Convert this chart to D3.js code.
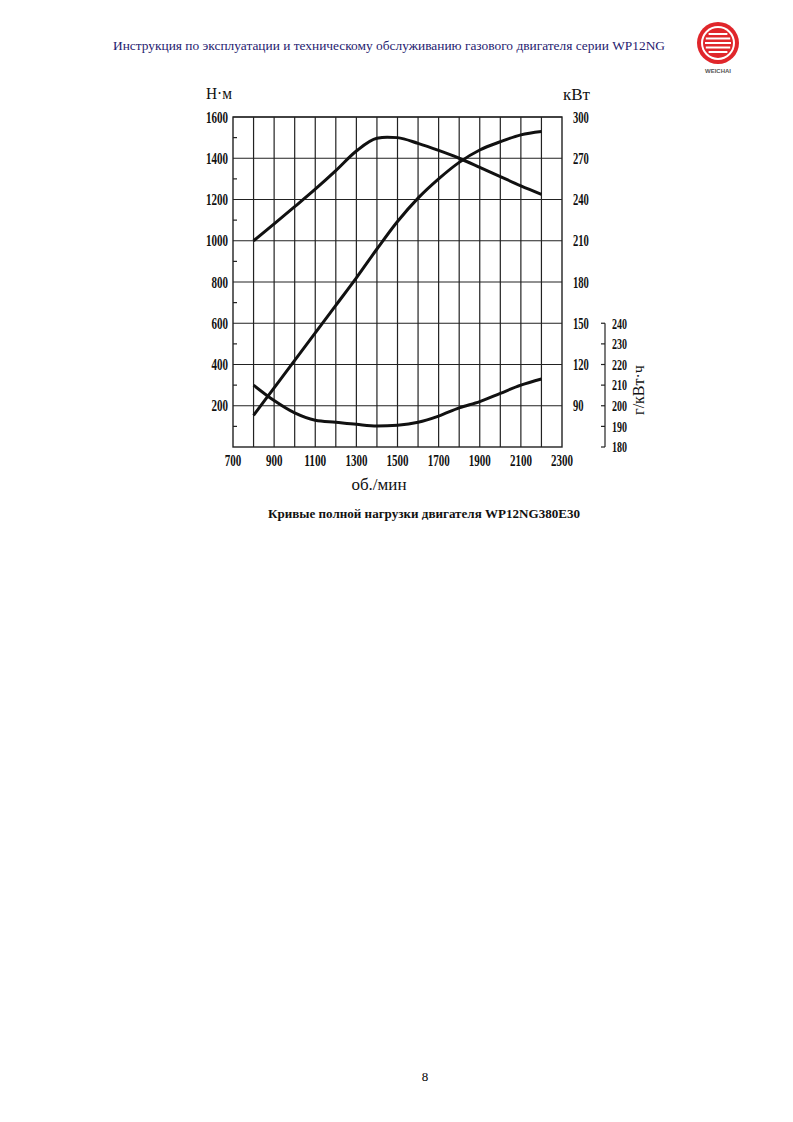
<!DOCTYPE html>
<html>
<head>
<meta charset="utf-8">
<script src="https://cdn.jsdelivr.net/npm/d3@7"></script>
<style>
  body { margin: 0; background: #fff; }
  svg { display: block; }
</style>
</head>
<body>
<div id="page"></div>
<script>
;(function () {
// rpm points the curves were read at
const rpm = [800, 900, 1000, 1100, 1200, 1300, 1400, 1450, 1500, 1600, 1700, 1800, 1900, 2000, 2100, 2200];
const torque = [1000, 1082, 1165, 1250, 1340, 1435, 1497, 1502, 1500, 1472, 1438, 1400, 1356, 1311, 1266, 1225];

const rpmP = [800, 900, 1000, 1100, 1200, 1300, 1400, 1500, 1600, 1700, 1800, 1900, 2000, 2100, 2200];
const power = [83, 103, 123, 143, 163, 183, 204, 224, 241, 255, 267, 276, 282, 287, 289.5];
const bsfc = [210, 202.5, 196.5, 193, 192, 191, 190.2, 190.6, 192, 195, 199, 202, 206, 210, 213];

const xTicks = [700, 900, 1100, 1300, 1500, 1700, 1900, 2100, 2300];
const xGrid = [800, 900, 1000, 1100, 1200, 1300, 1400, 1500, 1600, 1700, 1800, 1900, 2000, 2100, 2200];
const torqueTicks = [200, 400, 600, 800, 1000, 1200, 1400, 1600];
const torqueMinor = [100, 300, 500, 700, 900, 1100, 1300, 1500];
const powerTicks = [90, 120, 150, 180, 210, 240, 270, 300];
const bsfcTicks = [180, 190, 200, 210, 220, 230, 240];

const headerText = "Инструкция по эксплуатации и техническому обслуживанию газового двигателя серии WP12NG";
const captionText = "Кривые полной нагрузки двигателя WP12NG380E30";

const svg = d3.select("#page").append("svg")
  .attr("width", 793)
  .attr("height", 1122);

// plot box
const pLeft = 233, pRight = 562, pTop = 117, pBottom = 447;

const x = d3.scaleLinear().domain([700, 2300]).range([pLeft, pRight]);
const yT = d3.scaleLinear().domain([0, 1600]).range([pBottom, pTop]);
const yP = d3.scaleLinear().domain([60, 300]).range([pBottom, pTop]);
// 10 g/kWh takes the same height as 100 N·m
const yB = d3.scaleLinear().domain([180, 240]).range([pBottom, yT(600)]);

const tickFont = "'Liberation Serif', 'DejaVu Serif', serif";

// header
svg.append("text")
  .attr("x", 113).attr("y", 50)
  .attr("textLength", 552).attr("lengthAdjust", "spacingAndGlyphs")
  .style("font-family", tickFont).style("font-size", "13.5px")
  .style("fill", "#1f2270")
  .text(headerText);

// logo
const logo = svg.append("g").attr("transform", "translate(718,43)");
logo.append("circle").attr("r", 21).attr("fill", "#e0262b");
logo.append("circle").attr("r", 17).attr("fill", "#fff");
logo.append("circle").attr("r", 15).attr("fill", "#e0262b");
[-9, -4.5, 0, 4.5, 9].forEach(function (dy) {
  const hw = Math.sqrt(Math.max(0, 13 * 13 - dy * dy));
  logo.append("line")
    .attr("x1", -hw).attr("x2", hw)
    .attr("y1", dy).attr("y2", dy)
    .attr("stroke", "#fff").attr("stroke-width", 2);
});
svg.append("text")
  .attr("x", 718).attr("y", 73)
  .attr("text-anchor", "middle")
  .style("font-family", "'Liberation Sans', Arial, sans-serif")
  .style("font-size", "6px").style("font-weight", "bold")
  .style("fill", "#555")
  .text("WEICHAI");

// grid
const grid = svg.append("g").attr("stroke", "#222").attr("stroke-width", 1.2);
grid.selectAll(".vg").data(xGrid).enter().append("line")
  .attr("x1", d => x(d)).attr("x2", d => x(d))
  .attr("y1", pTop).attr("y2", pBottom);
grid.selectAll(".hg").data(torqueTicks).enter().append("line")
  .attr("x1", pLeft).attr("x2", pRight)
  .attr("y1", d => yT(d)).attr("y2", d => yT(d));
grid.selectAll(".mt").data(torqueMinor).enter().append("line")
  .attr("x1", pLeft).attr("x2", pLeft + 4)
  .attr("y1", d => yT(d)).attr("y2", d => yT(d));
svg.append("rect")
  .attr("x", pLeft).attr("y", pTop)
  .attr("width", pRight - pLeft).attr("height", pBottom - pTop)
  .attr("fill", "none").attr("stroke", "#222").attr("stroke-width", 1.4);

// tick labels
function label(g, txt, px, py, anchor, size, w) {
  g.append("text")
    .attr("x", px).attr("y", py)
    .attr("dy", "0.35em")
    .attr("text-anchor", anchor)
    .attr("textLength", w * String(txt).length)
    .attr("lengthAdjust", "spacingAndGlyphs")
    .style("font-family", tickFont)
    .style("font-weight", "bold")
    .style("font-size", size + "px")
    .text(txt);
}
const labels = svg.append("g").style("fill", "#111");
torqueTicks.forEach(d => label(labels, d, pLeft - 5, yT(d), "end", 16, 5.5));
powerTicks.forEach(d => label(labels, d, pRight + 11, yP(d), "start", 16, 5.3));
xTicks.forEach(d => label(labels, d, x(d), pBottom + 13, "middle", 16, 5.5));

// bsfc axis on far right
const bx = 605;
const bAxis = svg.append("g").attr("stroke", "#222").attr("stroke-width", 1.2);
bAxis.append("line").attr("x1", bx).attr("x2", bx)
  .attr("y1", yB(240)).attr("y2", yB(180));
bAxis.selectAll("line.t").data(bsfcTicks).enter().append("line")
  .attr("x1", bx - 4).attr("x2", bx)
  .attr("y1", d => yB(d)).attr("y2", d => yB(d));
bsfcTicks.forEach(d => label(labels, d, bx + 7, yB(d), "start", 15, 5));

// axis titles
const titleStyle = g => g.style("font-family", tickFont).style("font-size", "17px").style("fill", "#111");
svg.append("text").attr("x", 206).attr("y", 99)
  .attr("textLength", 26).attr("lengthAdjust", "spacingAndGlyphs")
  .text("Н·м").call(titleStyle);
svg.append("text").attr("x", 563).attr("y", 100).text("кВт").call(titleStyle);
svg.append("text").attr("x", 379).attr("y", 490).attr("text-anchor", "middle").text("об./мин").call(titleStyle);
svg.append("text")
  .attr("transform", "translate(644,390) rotate(-90)")
  .attr("text-anchor", "middle")
  .text("г/кВт·ч").call(titleStyle)
  .style("font-size", "16px");

// curves
const curves = svg.append("g")
  .attr("fill", "none").attr("stroke", "#111")
  .attr("stroke-width", 3).attr("stroke-linejoin", "round").attr("stroke-linecap", "butt");

const torqueLine = d3.line().x((d, i) => x(rpm[i])).y(d => yT(d)).curve(d3.curveMonotoneX);
const powerLine = d3.line().x((d, i) => x(rpmP[i])).y(d => yP(d)).curve(d3.curveMonotoneX);
const bsfcLine = d3.line().x((d, i) => x(rpmP[i])).y(d => yB(d)).curve(d3.curveMonotoneX);

curves.append("path").attr("d", torqueLine(torque));
curves.append("path").attr("d", powerLine(power));
curves.append("path").attr("d", bsfcLine(bsfc));

// caption and page number
svg.append("text")
  .attr("x", 424).attr("y", 518)
  .attr("text-anchor", "middle")
  .attr("textLength", 312).attr("lengthAdjust", "spacingAndGlyphs")
  .style("font-family", tickFont).style("font-weight", "bold")
  .style("font-size", "12.5px").style("fill", "#111")
  .text(captionText);

svg.append("text")
  .attr("x", 425).attr("y", 1081)
  .attr("text-anchor", "middle")
  .style("font-family", tickFont).style("font-size", "13px")
  .text("8");
})()
</script>
</body>
</html>
